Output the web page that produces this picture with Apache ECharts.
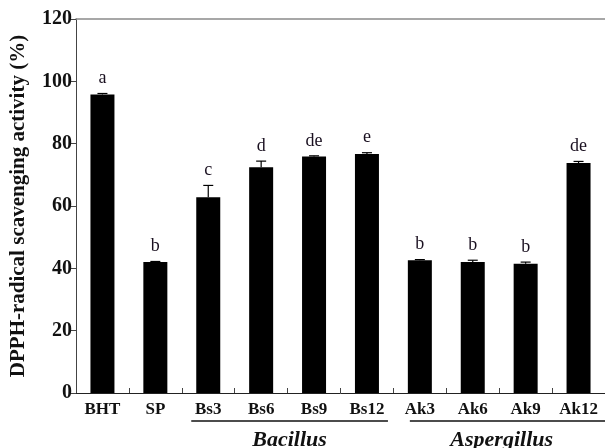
<!DOCTYPE html>
<html>
<head>
<meta charset="utf-8">
<script src="https://cdn.jsdelivr.net/npm/echarts@6/dist/echarts.min.js"></script>
<style>
  html, body { margin: 0; padding: 0; background: #fff; }
  #main { width: 605px; height: 448px; }
</style>
</head>
<body>
<div id="main"></div>
<script>
var names = ['BHT', 'SP', 'Bs3', 'Bs6', 'Bs9', 'Bs12', 'Ak3', 'Ak6', 'Ak9', 'Ak12'];
var means = [95.8, 42.0, 62.8, 72.4, 75.9, 76.7, 42.6, 42.0, 41.5, 73.8];
var errs = [0.3, 0.2, 3.8, 2.0, 0.2, 0.4, 0.2, 0.6, 0.5, 0.5];
var letters = ['a', 'b', 'c', 'd', 'de', 'e', 'b', 'b', 'b', 'de'];
var yTicks = [0, 20, 40, 60, 80, 100, 120];
// groups under the x axis: [name, first category, last category]
var groups = [['Bacillus', 'Bs3', 'Bs12'], ['Aspergillus', 'Ak3', 'Ak12']];

var serif = "'Liberation Serif', 'Times New Roman', serif";
var chart = echarts.init(document.getElementById('main'));

var errData = [];
for (var i = 0; i < names.length; i++) {
    errData.push([i, means[i], errs[i], letters[i]]);
}

var option = {
    animation: false,
    grid: { left: 74, right: -3, top: 19, bottom: 55 },
    xAxis: [{
        type: 'category',
        data: names,
        axisLine: { lineStyle: { color: '#222', width: 1 } },
        axisTick: { show: true, inside: true, length: 5, alignWithLabel: false, lineStyle: { color: '#444' } },
        axisLabel: { color: '#111', fontFamily: serif, fontWeight: 'bold', fontSize: 17, margin: 8 }
    }, {
        type: 'category',
        data: names,
        position: 'top',
        axisLine: { lineStyle: { color: '#8a8a8a', width: 1.5 } },
        axisTick: { show: false },
        axisLabel: { show: false }
    }],
    yAxis: {
        type: 'value',
        min: yTicks[0],
        max: yTicks[yTicks.length - 1],
        interval: 20,
        name: 'DPPH-radical scavenging activity (%)',
        nameLocation: 'middle',
        nameGap: 47,
        nameTextStyle: { color: '#111', fontFamily: serif, fontWeight: 'bold', fontSize: 21 },
        axisLine: { show: true, lineStyle: { color: '#444', width: 1 } },
        axisTick: { show: true, length: 5, lineStyle: { color: '#444' } },
        axisLabel: { color: '#111', fontFamily: serif, fontWeight: 'bold', fontSize: 20, margin: 4 },
        splitLine: { show: false }
    },
    series: [{
        type: 'bar',
        data: means,
        barWidth: 24,
        itemStyle: { color: '#000' },
        z: 2
    }, {
        type: 'custom',
        data: errData,
        z: 3,
        renderItem: function (params, api) {
            var x = api.value(0);
            var m = api.value(1);
            var e = api.value(2);
            var base = api.coord([x, m]);
            var top = api.coord([x, m + e]);
            var children = [];
            if (e > 0) {
                children.push({
                    type: 'line',
                    shape: { x1: base[0], y1: base[1], x2: top[0], y2: top[1] },
                    style: { stroke: '#000', lineWidth: 1.2 }
                });
                children.push({
                    type: 'line',
                    shape: { x1: top[0] - 5, y1: top[1], x2: top[0] + 5, y2: top[1] },
                    style: { stroke: '#000', lineWidth: 1.2 }
                });
            }
            children.push({
                type: 'text',
                style: {
                    text: letters[params.dataIndex],
                    x: top[0],
                    y: top[1] - 6,
                    align: 'center',
                    verticalAlign: 'bottom',
                    fill: '#1a1020',
                    font: '18px ' + serif
                }
            });
            return { type: 'group', children: children };
        }
    }]
};
chart.setOption(option);

// group underlines and italic names, placed from the category scale
var gfx = [];
var offs = [[-17, 21], [-10, 27]];
groups.forEach(function (g, k) {
    var a = chart.convertToPixel({ xAxisIndex: 0 }, g[1]);
    var b = chart.convertToPixel({ xAxisIndex: 0 }, g[2]);
    var y0 = chart.convertToPixel({ yAxisIndex: 0 }, 0);
    var x1 = a + offs[k][0];
    var x2 = b + offs[k][1];
    gfx.push({
        type: 'line',
        shape: { x1: x1, y1: y0 + 28, x2: x2, y2: y0 + 28 },
        style: { stroke: '#111', lineWidth: 1.5 }
    });
    gfx.push({
        type: 'text',
        style: {
            text: g[0],
            x: (x1 + x2) / 2 - (k === 1 ? 6 : 0),
            y: y0 + 47,
            align: 'center',
            verticalAlign: 'middle',
            fill: '#111',
            font: 'italic bold 22px ' + serif
        }
    });
});
chart.setOption({ graphic: gfx });
</script>
</body>
</html>
